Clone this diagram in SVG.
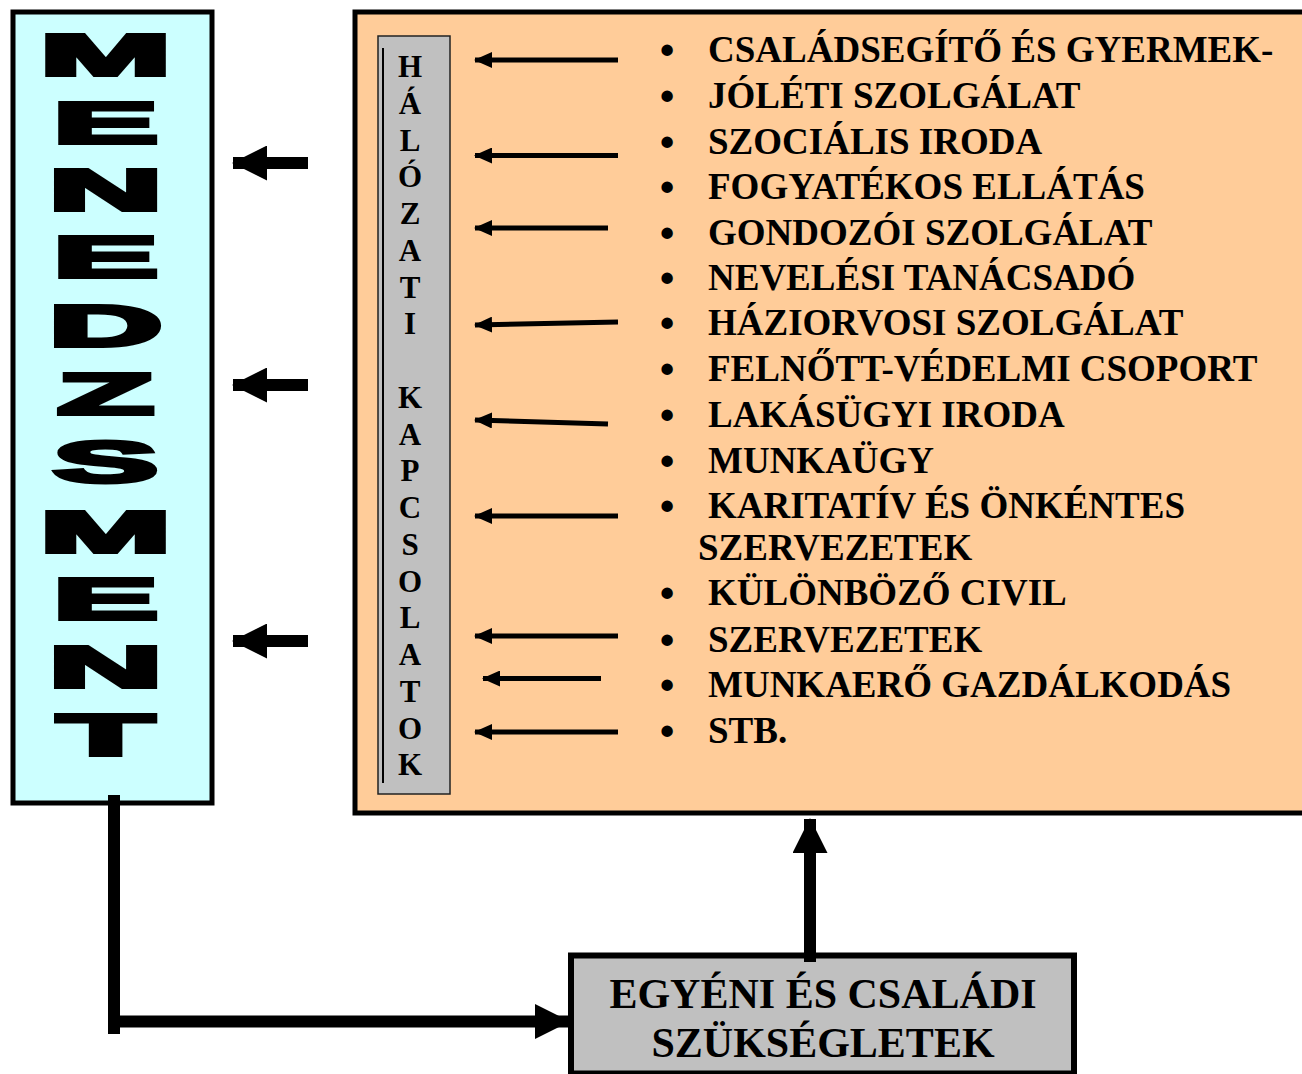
<svg xmlns="http://www.w3.org/2000/svg" width="1302" height="1074" viewBox="0 0 1302 1074">
<style>
.box{stroke:#000;stroke-width:5}
.mg{font-family:"Liberation Sans",Arial,sans-serif;font-weight:bold;font-size:57px;text-anchor:middle;fill:#000;stroke:#000;stroke-width:4;stroke-linejoin:miter}
.vt{font-family:"Liberation Serif","Times New Roman",serif;font-weight:bold;font-size:31px;text-anchor:middle;fill:#000}
.li{font-family:"Liberation Serif","Times New Roman",serif;font-weight:bold;font-size:37px;fill:#000}
.bu{font-family:"Liberation Serif","Times New Roman",serif;font-weight:bold;font-size:42px;fill:#000;text-anchor:middle}
.bt{font-family:"Liberation Serif","Times New Roman",serif;font-weight:bold;font-size:42px;fill:#000;text-anchor:middle}
.sa{stroke:#000;stroke-width:5;fill:none;marker-end:url(#sh)}
.ba{stroke:#000;stroke-width:12;fill:none;marker-end:url(#bh)}
</style>
<defs>
<marker id="sh" markerUnits="userSpaceOnUse" markerWidth="18" markerHeight="16" viewBox="0 0 18 16" refX="17" refY="8" orient="auto"><path d="M0,0 L18,8 L0,16 z" fill="#000"/></marker>
<marker id="bh" markerUnits="userSpaceOnUse" markerWidth="35" markerHeight="35" viewBox="0 0 35 35" refX="34" refY="17.5" orient="auto"><path d="M0,0 L35,17.5 L0,35 z" fill="#000"/></marker>
</defs>
<rect width="1302" height="1074" fill="#fff"/>

<g id="menedzsment">
<rect class="box" x="13" y="12" width="199" height="791" fill="#CCFFFF"/>
<text class="mg" transform="translate(105.5 0) scale(2.75 1)"><tspan x="0" y="75">M</tspan><tspan x="0" y="143">E</tspan><tspan x="0" y="210">N</tspan><tspan x="0" y="277">E</tspan><tspan x="0" y="346">D</tspan><tspan x="0" y="414">Z</tspan><tspan x="0" y="482">S</tspan><tspan x="0" y="552">M</tspan><tspan x="0" y="619">E</tspan><tspan x="0" y="687">N</tspan><tspan x="0" y="755">T</tspan></text>
</g>

<g id="szolgaltatasok">
<rect class="box" x="355" y="12" width="960" height="801" fill="#FFCC99" stroke-width="6"/>
<g id="halozati">
<rect x="378" y="36" width="72" height="758" fill="#C0C0C0" stroke="#222" stroke-width="1.5"/>
<line x1="383" y1="48" x2="383" y2="783" stroke="#000" stroke-width="2"/>
<text class="vt"><tspan x="410" y="77">H</tspan><tspan x="410" y="113.75">Á</tspan><tspan x="410" y="150.5">L</tspan><tspan x="410" y="187.25">Ó</tspan><tspan x="410" y="224">Z</tspan><tspan x="410" y="260.75">A</tspan><tspan x="410" y="297.5">T</tspan><tspan x="410" y="334.25">I</tspan><tspan x="410" y="371"> </tspan><tspan x="410" y="407.75">K</tspan><tspan x="410" y="444.5">A</tspan><tspan x="410" y="481.25">P</tspan><tspan x="410" y="518">C</tspan><tspan x="410" y="554.75">S</tspan><tspan x="410" y="591.5">O</tspan><tspan x="410" y="628.25">L</tspan><tspan x="410" y="665">A</tspan><tspan x="410" y="701.75">T</tspan><tspan x="410" y="738.5">O</tspan><tspan x="410" y="775.25">K</tspan></text>
</g>
<g id="lista">
<text class="bu"><tspan x="667" y="64">•</tspan><tspan x="667" y="110">•</tspan><tspan x="667" y="156">•</tspan><tspan x="667" y="201">•</tspan><tspan x="667" y="247">•</tspan><tspan x="667" y="292">•</tspan><tspan x="667" y="337">•</tspan><tspan x="667" y="383">•</tspan><tspan x="667" y="429">•</tspan><tspan x="667" y="475">•</tspan><tspan x="667" y="520">•</tspan><tspan x="667" y="607">•</tspan><tspan x="667" y="654">•</tspan><tspan x="667" y="699">•</tspan><tspan x="667" y="745">•</tspan></text>
<text class="li" x="708" y="62">CSALÁDSEGÍTŐ ÉS GYERMEK-</text>
<text class="li" x="708" y="108">JÓLÉTI SZOLGÁLAT</text>
<text class="li" x="708" y="154">SZOCIÁLIS IRODA</text>
<text class="li" x="708" y="199">FOGYATÉKOS ELLÁTÁS</text>
<text class="li" x="708" y="245">GONDOZÓI SZOLGÁLAT</text>
<text class="li" x="708" y="290">NEVELÉSI TANÁCSADÓ</text>
<text class="li" x="708" y="335">HÁZIORVOSI SZOLGÁLAT</text>
<text class="li" x="708" y="381">FELNŐTT-VÉDELMI CSOPORT</text>
<text class="li" x="708" y="427">LAKÁSÜGYI IRODA</text>
<text class="li" x="708" y="473">MUNKAÜGY</text>
<text class="li" x="708" y="518">KARITATÍV ÉS ÖNKÉNTES</text>
<text class="li" x="698" y="560">SZERVEZETEK</text>
<text class="li" x="708" y="605">KÜLÖNBÖZŐ CIVIL</text>
<text class="li" x="708" y="652">SZERVEZETEK</text>
<text class="li" x="708" y="697">MUNKAERŐ GAZDÁLKODÁS</text>
<text class="li" x="708" y="743">STB.</text>
</g>
</g>

<g id="szuksegletek">
<rect x="571" y="955.5" width="503" height="118" fill="#C0C0C0" stroke="#000" stroke-width="6"/>
<text class="bt" x="823" y="1008">EGYÉNI ÉS CSALÁDI</text>
<text class="bt" x="823" y="1057">SZÜKSÉGLETEK</text>
</g>

<g id="connectors">
<line class="sa" x1="618" y1="60" x2="475" y2="60"/>
<line class="sa" x1="618" y1="155.5" x2="475" y2="155.5"/>
<line class="sa" x1="608" y1="228" x2="475" y2="228"/>
<line class="sa" x1="618" y1="322" x2="475" y2="325"/>
<line class="sa" x1="608" y1="424" x2="475" y2="420"/>
<line class="sa" x1="618" y1="516" x2="475" y2="516"/>
<line class="sa" x1="618" y1="636" x2="475" y2="636"/>
<line class="sa" x1="601" y1="678.5" x2="483" y2="678.5"/>
<line class="sa" x1="618" y1="732" x2="475" y2="732"/>
<line class="ba" x1="308" y1="163" x2="233" y2="163"/>
<line class="ba" x1="308" y1="385" x2="233" y2="385"/>
<line class="ba" x1="308" y1="641" x2="233" y2="641"/>
<line x1="114" y1="795" x2="114" y2="1034" stroke="#000" stroke-width="12"/>
<line class="ba" x1="108" y1="1021.5" x2="569" y2="1021.5"/>
<line class="ba" x1="810" y1="962" x2="810" y2="819"/>
</g>
</svg>
